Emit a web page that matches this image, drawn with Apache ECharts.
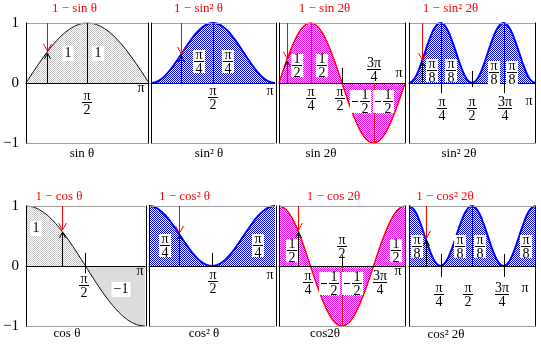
<!DOCTYPE html>
<html><head><meta charset="utf-8">
<script src="https://cdn.jsdelivr.net/npm/echarts@6/dist/echarts.min.js"></script>
<style>html,body{margin:0;padding:0;background:#fff}#c{width:541px;height:347px}</style>
</head><body><div id="c"></div>
<script>
// ---------- data ----------
const theta = [0,7.5,15,22.5,30,37.5,45,52.5,60,67.5,75,82.5,90,97.5,105,112.5,120,127.5,135,142.5,150,157.5,165,172.5,180];
const sinTheta    = [0,0.131,0.259,0.383,0.5,0.609,0.707,0.793,0.866,0.924,0.966,0.991,1,0.991,0.966,0.924,0.866,0.793,0.707,0.609,0.5,0.383,0.259,0.131,0];
const sinSqTheta  = [0,0.017,0.067,0.146,0.25,0.371,0.5,0.629,0.75,0.854,0.933,0.983,1,0.983,0.933,0.854,0.75,0.629,0.5,0.371,0.25,0.146,0.067,0.017,0];
const sin2Theta   = [0,0.259,0.5,0.707,0.866,0.966,1,0.966,0.866,0.707,0.5,0.259,0,-0.259,-0.5,-0.707,-0.866,-0.966,-1,-0.966,-0.866,-0.707,-0.5,-0.259,0];
const sinSq2Theta = [0,0.067,0.25,0.5,0.75,0.933,1,0.933,0.75,0.5,0.25,0.067,0,0.067,0.25,0.5,0.75,0.933,1,0.933,0.75,0.5,0.25,0.067,0];
const cosTheta    = [1,0.991,0.966,0.924,0.866,0.793,0.707,0.609,0.5,0.383,0.259,0.131,0,-0.131,-0.259,-0.383,-0.5,-0.609,-0.707,-0.793,-0.866,-0.924,-0.966,-0.991,-1];
const cosSqTheta  = [1,0.983,0.933,0.854,0.75,0.629,0.5,0.371,0.25,0.146,0.067,0.017,0,0.017,0.067,0.146,0.25,0.371,0.5,0.629,0.75,0.854,0.933,0.983,1];
const cos2Theta   = [1,0.966,0.866,0.707,0.5,0.259,0,-0.259,-0.5,-0.707,-0.866,-0.966,-1,-0.966,-0.866,-0.707,-0.5,-0.259,0,0.259,0.5,0.707,0.866,0.966,1];
const cosSq2Theta = [1,0.933,0.75,0.5,0.25,0.067,0,0.067,0.25,0.5,0.75,0.933,1,0.933,0.75,0.5,0.25,0.067,0,0.067,0.25,0.5,0.75,0.933,1];

const yTickLabels = {'-1':'−1','0':'0','1':'1'};

const captions = ['sin θ','sin² θ','sin 2θ','sin² 2θ','cos θ','cos² θ','cos2θ','cos² 2θ'];
const formulas = ['1 − sin θ','1 − sin² θ','1 − sin 2θ','1 − sin² 2θ','1 − cos θ','1 − cos² θ','1 − cos 2θ','1 − cos² 2θ'];

// arrow points [theta, value]
const arrowPts = [[31.5,0.52],[43.5,0.474],[11.5,0.39],[18.6,0.365],[54,0.588],[43,0.535],[27,0.588],[24,0.448]];

// annotation labels [theta, value, text, boxed]
const labels = [
  [[61,0.5,'1',1],[106,0.5,'1',1],[90,-0.32,'π/2',0],[168,-0.09,'π',0]],
  [[70,0.37,'π/4',1],[112,0.37,'π/4',1],[90,-0.23,'π/2',0],[173,-0.13,'π',0]],
  [[26,0.3,'1/2',1],[61,0.3,'1/2',1],[46,-0.25,'π/4',0],[87,-0.25,'π/2',0],[136,0.23,'3π/4',0],[171,0.17,'π',0],[123,-0.3,'-1/2',1],[156,-0.3,'-1/2',1]],
  [[33,0.22,'π/8',1],[60,0.22,'π/8',1],[121,0.18,'π/8',1],[147,0.18,'π/8',1],[47,-0.42,'π/4',0],[90,-0.42,'π/2',0],[137,-0.42,'3π/4',0],[171,-0.3,'π',0]],
  [[14.5,0.63,'1',1],[143,-0.38,'−1',1],[88.5,-0.32,'π/2',0],[172,-0.09,'π',0]],
  [[23,0.35,'π/4',1],[156,0.35,'π/4',1],[91,-0.25,'π/2',0],[173,-0.15,'π',0]],
  [[18.6,0.27,'1/2',1],[167,0.27,'1/2',1],[90,0.33,'π/2',0],[41,-0.27,'π/4',0],[144,-0.27,'3π/4',0],[170,-0.08,'π',0],[79,-0.28,'-1/2',1],[112,-0.28,'-1/2',1]],
  [[11.4,0.33,'π/8',1],[73,0.33,'π/8',1],[101,0.33,'π/8',1],[167,0.33,'π/8',1],[43,-0.47,'π/4',0],[84,-0.47,'π/2',0],[133,-0.47,'3π/4',0],[166,-0.37,'π',0]]
];

// vertical segments [theta, from, to]
const blackSegs = [[[90,0,1]],[],[[90,0,0.25]],[[45,0,-0.17],[90,-0.07,0.2],[135,0,-0.17]],[[90,-0.12,0.22]],[[90,0,0.22]],[[90,0,0.18]],[[45,-0.18,0.2],[135,-0.18,0.2]]];
const colorSegs = [[],[[90,0,1]],[[45,0,1],[135,0,-1]],[[45,0,1],[135,0,1]],[],[],[[90,0,-1]],[[90,0,1]]];

// ---------- layout / style ----------
const FONT = '"Liberation Serif","Times New Roman",serif';
const rects = [[23,23,126],[151,23,124],[279,23,126],[409,23,126],[21,206,124],[149,206,126],[279,206,126],[409,206,126]];
const captionPos = [[82,154],[209,154],[321,154],[459,154],[67,334],[204,334],[325,334],[446,335]];
const formulaPos = [[74.5,8.5],[198.5,8.5],[324.5,8.5],[450.5,8.5],[59,197],[184.5,197],[333.5,197],[445,197]];

function checker(c1){
  const cv=document.createElement('canvas'); cv.width=2; cv.height=2;
  const ctx=cv.getContext('2d'); ctx.fillStyle='#ffffff'; ctx.fillRect(0,0,2,2);
  ctx.fillStyle=c1; ctx.fillRect(0,0,1,1); ctx.fillRect(1,1,1,1); return cv;
}
const grayPat = {image: checker('#c4c4c4'), repeat:'repeat'};
const bluePat = {image: checker('#0000ff'), repeat:'repeat'};
const magPat  = {image: checker('#ff00ff'), repeat:'repeat'};

const curveVals = [sinTheta,sinSqTheta,sin2Theta,sinSq2Theta,cosTheta,cosSqTheta,cos2Theta,cosSq2Theta];
const lineCol = ['#000','#0000ff','#ff0000','#0000ff','#000','#0000ff','#ff0000','#0000ff'];
const lineW = [1,2,1.5,2,1,2,1.5,2];
const fills = [grayPat,bluePat,magPat,bluePat,grayPat,bluePat,magPat,bluePat];
const segCol = ['#000','#0000ff','#ff0000','#0000ff','#000','#0000ff','#ff0000','#0000ff'];

const grid=[], xAxis=[], yAxis=[], series=[];
const pair = (xs, ys) => xs.map((x,i)=>[x, ys[i]]);

function txt(x,y,s,color,size,align){
  return {type:'text', x:x, y:y, style:{text:s, font:(size||14)+'px '+FONT, fill:color||'#000', align:align||'center', verticalAlign:'middle'}};
}

function labelRender(list){
  return function(params, api){
    const d = list[params.dataIndex];
    const p = api.coord([d[0], d[1]]);
    const cx = Math.round(p[0]), cy = Math.round(p[1]);
    const s = d[2], boxed = d[3];
    const ch = [];
    if (s.indexOf('/')>=0){
      const neg = s[0]==='-';
      const parts = (neg ? s.slice(1) : s).split('/');
      const w = Math.max(parts[0].length, parts[1].length) > 1 ? 14 : 10;
      if (boxed) ch.push({type:'rect', shape:{x: cx - w/2 - 1 - (neg?9:0), y: cy-11, width: w+2+(neg?9:0), height: 23}, style:{fill:'#fff'}});
      ch.push(txt(cx, cy-6, parts[0]));
      ch.push({type:'line', shape:{x1:cx-w/2, y1:cy+0.5, x2:cx+w/2, y2:cy+0.5}, style:{stroke:'#000', lineWidth:1}});
      ch.push(txt(cx, cy+8, parts[1]));
      if (neg) ch.push({type:'line', shape:{x1:cx-w/2-8, y1:cy+0.5, x2:cx-w/2-2, y2:cy+0.5}, style:{stroke:'#000', lineWidth:1}});
    } else {
      const w = s.length*7+5;
      if (boxed) ch.push({type:'rect', shape:{x: cx-w/2, y: cy-7, width: w, height: 15}, style:{fill:'#fff'}});
      ch.push(txt(cx, cy, s));
    }
    return {type:'group', children: ch};
  };
}
function segRender(list, color){
  return function(params, api){
    const d = list[params.dataIndex];
    const a = api.coord([d[0], d[1]]), b = api.coord([d[0], d[2]]);
    const x = Math.round(a[0]) + 0.5;
    return {type:'line', shape:{x1:x, y1:a[1], x2:x, y2:b[1]}, style:{stroke:color, lineWidth:1}};
  };
}
function arrowRender(pt){
  return function(params, api){
    const top = api.coord([pt[0], 1]), tip = api.coord([pt[0], pt[1]]), base = api.coord([pt[0], 0]);
    const x = Math.round(tip[0]) + 0.5, ty = Math.round(tip[1]);
    return {type:'group', children:[
      {type:'line', shape:{x1:x, y1:base[1], x2:x, y2:ty+1}, style:{stroke:'#000', lineWidth:1}},
      {type:'polyline', shape:{points:[[x-3,ty+7],[x,ty+1],[x+3,ty+7]]}, style:{stroke:'#000', lineWidth:1, fill:null}},
      {type:'line', shape:{x1:x, y1:top[1], x2:x, y2:ty-1}, style:{stroke:'#ff0000', lineWidth:1}},
      {type:'polyline', shape:{points:[[x-4,ty-8],[x,ty-1],[x+4,ty-8]]}, style:{stroke:'#ff0000', lineWidth:1, fill:null}}
    ]};
  };
}

for (let i=0;i<8;i++){
  const r = rects[i], col = i%4;
  grid.push({left:r[0], top:r[1], width:r[2], height:120, containLabel:false});
  xAxis.push({type:'value', gridIndex:i, min:0, max:180, z:3,
    axisLine:{show:true, onZero:true, lineStyle:{color:'#000', width:1}},
    axisTick:{show:false}, axisLabel:{show:false}, splitLine:{show:false}});
  const yi = yAxis.length;
  yAxis.push({type:'value', gridIndex:i, min:-1, max:1, interval:1, position:'left', z:3,
    axisLine:{show:true, onZero:false, lineStyle:{color:'#000', width:1}},
    axisTick:{show:false},
    axisLabel:{show: col===0, margin:7, color:'#000', fontSize:15, fontFamily:FONT, formatter: v => yTickLabels[String(v)]},
    splitLine:{show:true, lineStyle:{color:'#a0a0a0', width:1}}});
  if (col>0){
    yAxis.push({type:'value', gridIndex:i, min:-1, max:1, interval:1, position:'left', offset: col===3?4:3, z:3,
      axisLine:{show:true, onZero:false, lineStyle:{color:'#000', width:1}},
      axisTick:{show:false}, axisLabel:{show:false}, splitLine:{show:false}});
  }
  if (col===3){
    yAxis.push({type:'value', gridIndex:i, min:-1, max:1, interval:1, position:'right', z:3,
      axisLine:{show:true, onZero:false, lineStyle:{color:'#000', width:1}},
      axisTick:{show:false}, axisLabel:{show:false}, splitLine:{show:false}});
  }
  const base = {xAxisIndex:i, yAxisIndex:yi, silent:true, animation:false};
  const all = pair(theta, curveVals[i]);
  if (i===4){
    series.push(Object.assign({type:'line', data: all.slice(0,13), smooth:true, showSymbol:false,
      lineStyle:{color:lineCol[i], width:lineW[i]}, areaStyle:{color:grayPat, opacity:1}, z:2}, base));
    series.push(Object.assign({type:'line', data: all.slice(12), smooth:true, showSymbol:false,
      lineStyle:{color:lineCol[i], width:lineW[i]}, areaStyle:{color:'#dcdcdc', opacity:1}, z:2}, base));
  } else {
    series.push(Object.assign({type:'line', data: all, smooth:true, showSymbol:false,
      lineStyle:{color:lineCol[i], width:lineW[i]}, areaStyle:{color:fills[i], opacity:1}, z:2}, base));
  }
  if (colorSegs[i].length) series.push(Object.assign({type:'custom', z:4, data: colorSegs[i].map(d=>[d[0],d[1]]), renderItem: segRender(colorSegs[i], segCol[i])}, base));
  if (blackSegs[i].length) series.push(Object.assign({type:'custom', z:4, data: blackSegs[i].map(d=>[d[0],d[1]]), renderItem: segRender(blackSegs[i], '#000')}, base));
  series.push(Object.assign({type:'custom', z:5, data: labels[i].map(d=>[d[0],d[1]]), renderItem: labelRender(labels[i])}, base));
  series.push(Object.assign({type:'custom', z:6, data: [arrowPts[i]], renderItem: arrowRender(arrowPts[i])}, base));
}

const graphic = [];
for (let i=0;i<8;i++){
  graphic.push(txt(captionPos[i][0], captionPos[i][1], captions[i], '#000', 13));
  graphic.push(txt(formulaPos[i][0], formulaPos[i][1], formulas[i], '#ff0000', 13));
}

const chart = echarts.init(document.getElementById('c'), null, {renderer:'canvas'});
chart.setOption({animation:false, backgroundColor:'#fff', grid, xAxis, yAxis, series, graphic});
</script>
</body></html>
